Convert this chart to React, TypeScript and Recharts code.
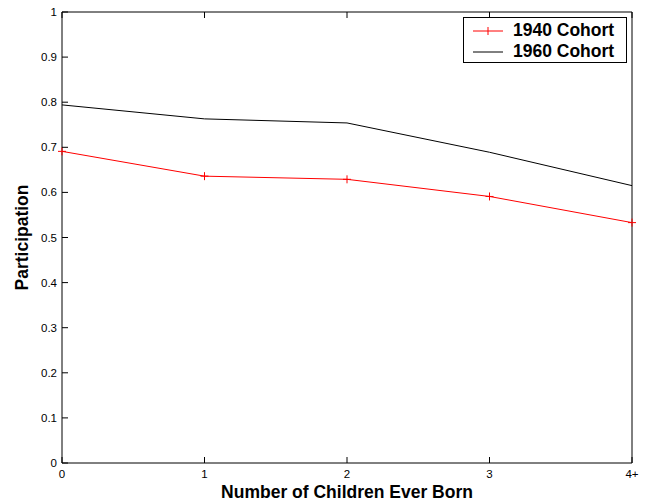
import { LineChart, Line, XAxis, YAxis } from 'recharts'

const categories = ['0', '1', '2', '3', '4+']
const cohort1940 = [0.691, 0.636, 0.629, 0.591, 0.533]
const cohort1960 = [0.794, 0.763, 0.754, 0.689, 0.615]
const yTicks = [0, 0.1, 0.2, 0.3, 0.4, 0.5, 0.6, 0.7, 0.8, 0.9, 1]

const data = categories.map((c, i) => ({
  x: c,
  c1940: cohort1940[i],
  c1960: cohort1960[i],
}))

const FONT = '"Liberation Sans", Arial, Helvetica, sans-serif'

const BottomTick = ({ x, y, payload }: any) => (
  <g>
    <line x1={x} y1={y} x2={x} y2={y - 6} stroke="#000" />
    <text x={x} y={y + 15} textAnchor="middle" fontSize={11.5} fontFamily={FONT} fill="#000">
      {payload.value}
    </text>
  </g>
)

const TopTick = ({ x, y }: any) => <line x1={x} y1={y} x2={x} y2={y + 6} stroke="#000" />

const LeftTick = ({ x, y, payload }: any) => (
  <g>
    <line x1={x} y1={y} x2={x + 6} y2={y} stroke="#000" />
    <text x={x - 5} y={y + 4} textAnchor="end" fontSize={11.5} fontFamily={FONT} fill="#000">
      {String(payload.value)}
    </text>
  </g>
)

const RightTick = ({ x, y }: any) => <line x1={x} y1={y} x2={x - 6} y2={y} stroke="#000" />

const PlusDot = ({ cx, cy }: any) => (
  <g>
    <line x1={cx - 4} y1={cy} x2={cx + 4} y2={cy} stroke="#ff0000" />
    <line x1={cx} y1={cy - 4} x2={cx} y2={cy + 4} stroke="#ff0000" />
  </g>
)

const legendItems = [
  { label: '1940 Cohort', color: '#ff0000', marker: true },
  { label: '1960 Cohort', color: '#000', marker: false },
]

const LegendBox = () => (
  <div
    style={{
      position: 'absolute',
      left: 463,
      top: 17,
      border: '1px solid #000',
      background: '#fff',
      width: 164,
      height: 46,
      boxSizing: 'border-box',
      fontFamily: FONT,
      fontWeight: 'bold',
      fontSize: 17.5,
      padding: '2px 0 0 9px',
    }}
  >
    {legendItems.map((item) => (
      <div key={item.label} style={{ display: 'flex', alignItems: 'center', height: 21 }}>
        <svg width={30} height={10} style={{ marginRight: 10 }}>
          <line x1={0} y1={5} x2={30} y2={5} stroke={item.color} />
          {item.marker && <line x1={15} y1={1} x2={15} y2={9} stroke={item.color} />}
        </svg>
        <span>{item.label}</span>
      </div>
    ))}
  </div>
)

export default function App() {
  return (
    <div style={{ position: 'absolute', left: 0, top: 0, width: 646, height: 502, background: '#fff' }}>
      <LineChart width={646} height={502} data={data} margin={{ top: 11, right: 13, bottom: 0, left: 0 }}>
        <XAxis
          dataKey="x"
          height={39}
          interval={0}
          tickSize={0}
          tickMargin={0}
          tickLine={false}
          tick={<BottomTick />}
          axisLine={{ stroke: '#000' }}
          label={{
            value: 'Number of Children Ever Born',
            position: 'insideBottom',
            offset: 4,
            fontSize: 17.5,
            fontWeight: 'bold',
            fontFamily: FONT,
            fill: '#000',
          }}
        />
        <XAxis
          xAxisId="top"
          dataKey="x"
          orientation="top"
          height={1}
          interval={0}
          tickSize={0}
          tickMargin={0}
          tickLine={false}
          tick={<TopTick />}
          axisLine={{ stroke: '#000' }}
        />
        <YAxis
          width={62}
          domain={[0, 1]}
          ticks={yTicks}
          interval={0}
          tickSize={0}
          tickMargin={0}
          tickLine={false}
          tick={<LeftTick />}
          axisLine={{ stroke: '#000' }}
          label={{
            content: ({ viewBox }: any) => (
              <text
                x={0}
                y={0}
                transform={`translate(28, ${viewBox.y + viewBox.height / 2}) rotate(-90)`}
                textAnchor="middle"
                fontSize={17.5}
                fontWeight="bold"
                fontFamily={FONT}
                fill="#000"
              >
                Participation
              </text>
            ),
          }}
        />
        <YAxis
          yAxisId="right"
          orientation="right"
          width={1}
          domain={[0, 1]}
          ticks={yTicks}
          interval={0}
          tickSize={0}
          tickMargin={0}
          tickLine={false}
          tick={<RightTick />}
          axisLine={{ stroke: '#000' }}
        />
        <Line
          dataKey="c1940"
          name="1940 Cohort"
          stroke="#ff0000"
          strokeWidth={1}
          dot={<PlusDot />}
          activeDot={false}
          isAnimationActive={false}
        />
        <Line
          dataKey="c1960"
          name="1960 Cohort"
          stroke="#000"
          strokeWidth={1}
          dot={false}
          activeDot={false}
          isAnimationActive={false}
        />
      </LineChart>
      <LegendBox />
    </div>
  )
}
